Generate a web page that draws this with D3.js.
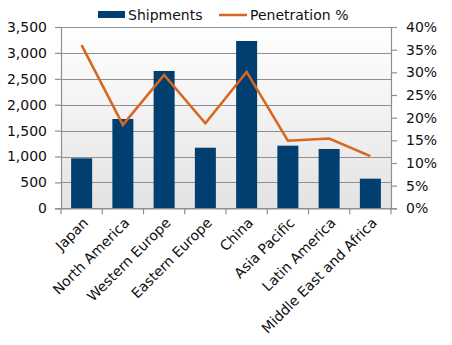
<!DOCTYPE html>
<html><head><meta charset="utf-8">
<script src="https://cdn.jsdelivr.net/npm/d3@7"></script>
<style>body{margin:0;background:#fff;} svg{display:block;font-family:"DejaVu Sans",Verdana,sans-serif;}</style>
</head><body>
<svg id="c" width="452" height="345"></svg>
<script>
const categories = ["Japan","North America","Western Europe","Eastern Europe","China","Asia Pacific","Latin America","Middle East and Africa"];
const shipments = [965, 1724, 2651, 1170, 3230, 1209, 1145, 572];
const penetration = [36.0, 18.4, 29.4, 18.75, 30.1, 14.9, 15.4, 11.5];
const leftTicks = [0,500,1000,1500,2000,2500,3000,3500];
const rightTicks = [0,5,10,15,20,25,30,35,40];
const seriesNames = ["Shipments","Penetration %"];

const svg = d3.select("#c");
const m = {l:61, r:391, t:27, b:208.3};
const x = d3.scaleBand().domain(categories).range([m.l, m.r]).paddingInner(0).paddingOuter(0);
const yL = d3.scaleLinear().domain([0,3500]).range([m.b, m.t]);
const yR = d3.scaleLinear().domain([0,40]).range([m.b, m.t]);

const defs = svg.append("defs");
const g = defs.append("linearGradient").attr("id","bg").attr("x1",0).attr("y1",0).attr("x2",0).attr("y2",1);
g.append("stop").attr("offset","0%").attr("stop-color","#ffffff");
g.append("stop").attr("offset","100%").attr("stop-color","#e3e3e3");
svg.append("rect").attr("x",m.l).attr("y",m.t).attr("width",m.r-m.l).attr("height",m.b-m.t).attr("fill","url(#bg)");

// gridlines
svg.append("g").selectAll("line").data(leftTicks).join("line")
  .attr("x1",m.l).attr("x2",m.r).attr("y1",d=>Math.round(yL(d))+0.5).attr("y2",d=>Math.round(yL(d))+0.5)
  .attr("stroke","#8f8f8f").attr("stroke-width",1.2);

// bars
const bw = 21;
svg.append("g").selectAll("rect").data(shipments).join("rect")
  .attr("x",(d,i)=>x(categories[i])+x.bandwidth()/2-bw/2)
  .attr("width",bw)
  .attr("y",d=>yL(d)).attr("height",d=>yL(0)-yL(d))
  .attr("fill","#003f70");

// line
const line = d3.line().x((d,i)=>x(categories[i])+x.bandwidth()/2).y(d=>yR(d));
svg.append("path").datum(penetration).attr("d",line).attr("fill","none")
  .attr("stroke","#d7661e").attr("stroke-width",2.5).attr("stroke-linejoin","miter");

// axes
const axColor="#8f8f8f";
const aL = svg.append("g").attr("transform",`translate(${m.l},0)`)
  .call(d3.axisLeft(yL).tickValues(leftTicks).tickFormat(d3.format(",")).tickSize(6).tickPadding(8));
const aR = svg.append("g").attr("transform",`translate(${m.r},0)`)
  .call(d3.axisRight(yR).tickValues(rightTicks).tickFormat(d=>d+"%").tickSize(6).tickPadding(9));
const aB = svg.append("g").attr("transform",`translate(0,${m.b})`)
  .call(d3.axisBottom(x).tickSize(0).tickFormat(""));
// category boundary ticks
svg.append("g").selectAll("line").data(d3.range(categories.length+1)).join("line")
  .attr("x1",i=>m.l+i*x.step()).attr("x2",i=>m.l+i*x.step())
  .attr("y1",m.b).attr("y2",m.b+6).attr("stroke",axColor).attr("stroke-width",1.2);
[aL,aR,aB].forEach(a=>{
  a.selectAll("path").attr("stroke",axColor).attr("stroke-width",1.2);
  a.selectAll("line").attr("stroke",axColor).attr("stroke-width",1.2);
  a.selectAll("text").attr("font-size",14).attr("fill","#111").attr("font-family","DejaVu Sans, Verdana, sans-serif");
});
// category labels
svg.append("g").selectAll("text").data(categories).join("text")
  .attr("transform",d=>`translate(${x(d)+x.bandwidth()/2+4},${m.b+12}) rotate(-45)`)
  .attr("text-anchor","end").attr("dy","0.35em").attr("font-size",14).attr("fill","#111").text(d=>d);

// legend
const lg = svg.append("g");
lg.append("rect").attr("x",98).attr("y",11).attr("width",27).attr("height",7).attr("fill","#003f70");
lg.append("text").attr("x",128).attr("y",15).attr("dy","0.35em").attr("font-size",14).attr("fill","#111").text(seriesNames[0]);
lg.append("line").attr("x1",219).attr("x2",247).attr("y1",15).attr("y2",15).attr("stroke","#d7661e").attr("stroke-width",2.5);
lg.append("text").attr("x",250).attr("y",15).attr("dy","0.35em").attr("font-size",14).attr("fill","#111").text(seriesNames[1]);
</script>
</body></html>
